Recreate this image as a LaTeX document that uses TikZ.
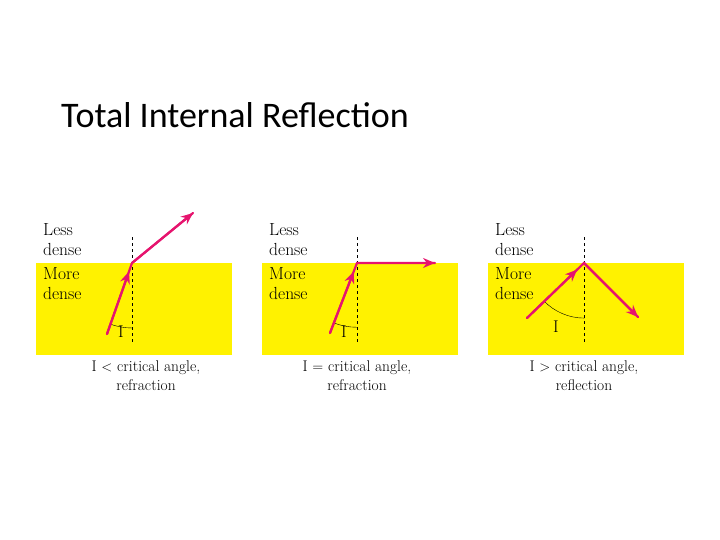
\documentclass[tikz,border=0pt]{standalone}
\usepackage{fontspec}
\newfontfamily\titlefont{Carlito}
\usetikzlibrary{calc,arrows.meta}
\begin{document}
\begin{tikzpicture}[x=1pt,y=-1pt,
  ray/.style={draw={rgb,255:red,230;green,20;blue,110},line width=2.2pt,line cap=round},
  tip/.style={-{Stealth[length=12pt,width=10pt]}},
  normal/.style={dashed,line width=0.8pt},
  lbl/.style={font=\fontsize{17.5}{20}\selectfont,align=left,anchor=north west,inner sep=0pt},
  anglbl/.style={font=\fontsize{17}{17}\selectfont},
  captext/.style={font=\fontsize{15.5}{19}\selectfont,align=center,inner sep=0pt}]
\useasboundingbox (0,0) rectangle (720,540);
\node[font=\titlefont\fontsize{36}{36}\selectfont,anchor=west,inner sep=0pt] (title) at (61,115) {Total Internal Reflection};
% panels
\foreach \ox/\n in {0/a,226/b,452/c}{
  \fill[yellow!100] (36+\ox,263) rectangle (232+\ox,355);
  \node[lbl] at (43+\ox,223) {Less\\dense};
  \node[lbl] at (43+\ox,267) {More\\dense};
}
% panel 1
\coordinate (s1) at (107,334); \coordinate (c1) at (132,263); \coordinate (e1) at (193,213);
\draw[normal] (132,237) -- (132,342);
\draw (110,324) arc[start angle=110.6,end angle=90,radius=62];
\node[anglbl] at (121,332) {I};
\draw[ray] (s1) -- (c1) -- (e1);
\draw[ray,tip] (s1) -- ($(s1)!0.88!(c1)$);
\draw[ray,tip] (c1) -- (e1);
\node[captext] at (146,376) {I $<$ critical angle,\\refraction};
% panel 2
\coordinate (s2) at (330,333); \coordinate (c2) at (357,263); \coordinate (e2) at (435,263);
\draw[normal] (357,237) -- (357,342);
\draw (334,323) arc[start angle=111,end angle=90,radius=64];
\node[anglbl] at (344,332) {I};
\draw[ray] (s2) -- (c2) -- (e2);
\draw[ray,tip] (s2) -- ($(s2)!0.88!(c2)$);
\draw[ray,tip] (c2) -- (e2);
\node[captext] at (357,376) {I $=$ critical angle,\\refraction};
% panel 3
\coordinate (s3) at (527,318); \coordinate (c3) at (584,263); \coordinate (e3) at (638,317);
\draw[normal] (584,237) -- (584,342);
\draw (544,301) arc[start angle=136,end angle=90,radius=56];
\node[anglbl] at (556,327) {I};
\draw[ray] (s3) -- (c3) -- (e3);
\draw[ray,tip] (s3) -- ($(s3)!0.88!(c3)$);
\draw[ray,tip] (c3) -- (e3);
\node[captext] at (584,376) {I $>$ critical angle,\\reflection};
\end{tikzpicture}
\end{document}
